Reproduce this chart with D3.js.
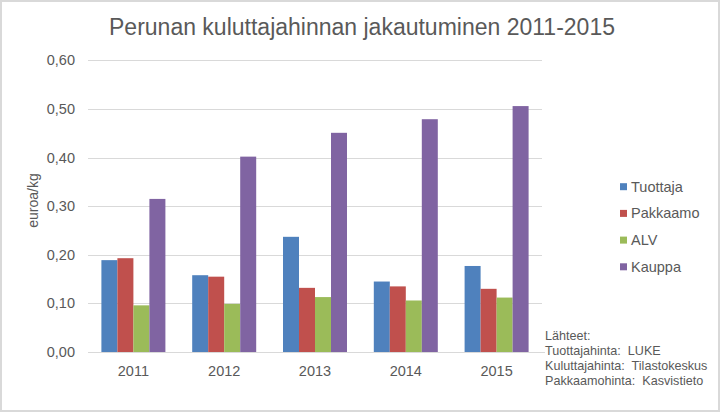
<!DOCTYPE html>
<html><head><meta charset="utf-8">
<script src="https://cdn.jsdelivr.net/npm/d3@7"></script>
<style>body{margin:0;background:#fff}svg{display:block}text{font-family:"Liberation Sans",Arial,sans-serif;fill:#595959}</style>
</head><body><svg id="c" width="720" height="412"></svg>
<script>
const years = ["2011","2012","2013","2014","2015"];
const seriesNames = ["Tuottaja","Pakkaamo","ALV","Kauppa"];
const tuottaja = [0.189,0.158,0.237,0.145,0.177];
const pakkaamo = [0.193,0.155,0.132,0.135,0.130];
const alv = [0.096,0.099,0.113,0.106,0.112];
const kauppa = [0.315,0.402,0.451,0.479,0.506];
const yTicks = [0,0.1,0.2,0.3,0.4,0.5,0.6];
const colors = ["#4F81BD","#C0504D","#9BBB59","#8064A2"];
const sources = ["Lähteet:","Tuottajahinta:  LUKE","Kuluttajahinta:  Tilastokeskus","Pakkaamohinta:  Kasvistieto"];
const values = [tuottaja,pakkaamo,alv,kauppa];

const svg = d3.select("#c");
svg.append("rect").attr("x",1).attr("y",1).attr("width",718).attr("height",410).attr("fill","#fff").attr("stroke","#d9d9d9").attr("stroke-width",2);

const pLeft=88,pRight=542,pTop=60.4,pBottom=352;
const x = d3.scaleBand().domain(years).range([pLeft,pRight]).paddingInner(0).paddingOuter(0);
const y = d3.scaleLinear().domain([0,0.6]).range([pBottom,pTop]);
const barW = 16;
const x1 = d3.scaleBand().domain(seriesNames).range([0,barW*4]);

// gridlines
svg.append("g").selectAll("line").data(yTicks.slice(1)).join("line")
  .attr("x1",pLeft).attr("x2",pRight).attr("y1",d=>Math.round(y(d))+0.5).attr("y2",d=>Math.round(y(d))+0.5)
  .attr("stroke","#d9d9d9").attr("stroke-width",1);

// y tick labels
svg.append("g").selectAll("text").data(yTicks).join("text")
  .attr("x",75).attr("y",d=>y(d)).attr("dy","0.35em").attr("text-anchor","end")
  .attr("font-size",14.5).text(d=>d3.format(".2f")(d).replace(".",","));

// bars
seriesNames.forEach((s,i)=>{
  svg.append("g").selectAll("rect").data(years).join("rect")
    .attr("x",(d)=>x(d)+x.bandwidth()/2-barW*2+x1(s))
    .attr("width",x1.bandwidth())
    .attr("y",(d,j)=>y(values[i][j]))
    .attr("height",(d,j)=>pBottom-y(values[i][j]))
    .attr("fill",colors[i]);
});

// baseline
svg.append("line").attr("x1",pLeft).attr("x2",545).attr("y1",pBottom+0.5).attr("y2",pBottom+0.5).attr("stroke","#d9d9d9");

// x labels
svg.append("g").selectAll("text").data(years).join("text")
  .attr("x",d=>x(d)+x.bandwidth()/2).attr("y",370.5).attr("dy","0.35em").attr("text-anchor","middle")
  .attr("font-size",14.5).text(d=>d);

// y title
svg.append("text").attr("transform",`translate(38,200.5) rotate(-90)`).attr("text-anchor","middle")
  .attr("font-size",14).text("euroa/kg");

// title
svg.append("text").attr("x",362).attr("y",27).attr("dy","0.35em").attr("text-anchor","middle").attr("font-size",23).text("Perunan kuluttajahinnan jakautuminen 2011-2015");

// legend
const lg = svg.append("g").selectAll("g").data(seriesNames).join("g").attr("transform",(d,i)=>`translate(620,${186.7+i*26.7})`);
lg.append("rect").attr("x",0).attr("y",-3.5).attr("width",7).attr("height",7).attr("fill",(d,i)=>colors[i]);
lg.append("text").attr("x",11).attr("dy","0.35em").attr("font-size",14.5).text(d=>d);

// sources
svg.append("g").selectAll("text").data(sources).join("text")
  .attr("x",545).attr("y",(d,i)=>336+i*15).attr("dy","0.35em").attr("font-size",12.6)
  .style("white-space","pre").text(d=>d);
</script></body></html>
